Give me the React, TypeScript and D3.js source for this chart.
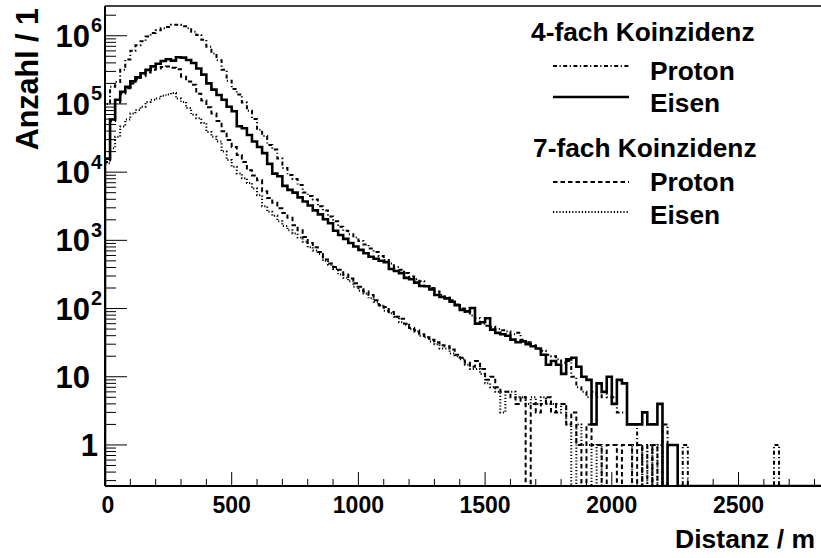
import React from 'react';
import * as d3 from 'd3';

// ---- data (counts per 20 m bin, starting at 0 m) ----
const binWidth = 20;

// 4-fach Koinzidenz, Proton (dash-dot)
const proton4: number[] = [
  100000, 178000, 209000, 316000, 447000, 603000, 724000, 832000, 977000, 1096000,
  1202000, 1288000, 1349000, 1445000, 1445000, 1380000, 1288000, 1148000, 1023000, 871000,
  692000, 550000, 437000, 316000, 219000, 166000, 138000, 105000, 79400, 60300,
  41700, 33900, 25100, 21400, 15800, 11500, 9100, 7940, 6460, 5010,
  4470, 3980, 3160, 2750, 2240, 1900, 1580, 1380, 1230, 1100,
  977, 871, 759, 676, 589, 513, 457, 407, 372, 331,
  295, 269, 251, 214, 200, 178, 158, 145, 132, 115,
  100, 89, 79, 72, 60, 56, 54, 50, 48, 46,
  42, 44, 35, 32, 29, 26, 24, 21, 20, 18,
  16, 17, 10, 7, 6, 5, 6, 5, 6, 5,
  5, 3, 3, 2, 2, 1, 0, 1, 0, 0,
  2, 0, 0, 0, 1, 0, 0, 0, 0, 0,
  0, 0, 0, 0, 0, 0, 0, 0, 0, 0,
  0, 0, 1, 0,
];

// 4-fach Koinzidenz, Eisen (solid)
const eisen4: number[] = [
  15800, 59000, 115000, 151000, 178000, 214000, 245000, 282000, 316000, 355000,
  389000, 427000, 452000, 432000, 484000, 478000, 442000, 398000, 331000, 269000,
  200000, 162000, 135000, 115000, 91000, 78000, 47000, 44000, 35000, 28200,
  23400, 19000, 13200, 9500, 8700, 6300, 5500, 5000, 4270, 3720,
  3240, 2750, 2400, 2040, 1780, 1380, 1200, 1050, 912, 813,
  724, 646, 575, 537, 501, 479, 380, 355, 331, 282,
  269, 240, 214, 212, 190, 158, 148, 141, 126, 112,
  95, 91, 102, 60, 63, 72, 49, 44, 42, 40,
  35, 32, 33, 30, 28, 26, 21, 15, 17, 15,
  11, 18, 19, 14, 10, 9, 2, 8, 6, 10,
  4, 9, 8, 2, 2, 2, 3, 2, 2, 4,
  0, 1, 1, 0,
];

// 7-fach Koinzidenz, Proton (dashed)
const proton7: number[] = [
  14100, 56200, 105000, 141000, 170000, 200000, 229000, 257000, 288000, 316000,
  331000, 347000, 355000, 339000, 324000, 251000, 214000, 191000, 141000, 112000,
  89100, 72400, 56200, 39800, 29500, 23400, 17800, 14100, 10700, 8900,
  7590, 5250, 4170, 3550, 2950, 2510, 2140, 1660, 1410, 1120,
  912, 794, 676, 525, 457, 407, 372, 316, 275, 234,
  209, 178, 158, 132, 112, 105, 89, 76, 71, 60,
  52, 48, 42, 38, 35, 32, 29, 28, 25, 21,
  19, 16, 14, 17, 13, 9, 10, 7, 6, 6,
  5, 4, 5, 0, 4, 3, 4, 5, 3, 4,
  4, 2, 3, 1, 0, 2, 1, 1, 0, 1,
  1, 0, 1, 1, 0, 1, 0, 0, 1, 0,
];

// 7-fach Koinzidenz, Eisen (dotted)
const eisen7: number[] = [
  13500, 22400, 33100, 46800, 58900, 72400, 81300, 91200, 107000, 115000,
  120000, 132000, 138000, 145000, 120000, 107000, 87100, 69200, 61700, 52500,
  38900, 33100, 28200, 20000, 15100, 12000, 9550, 8130, 6920, 5750,
  4570, 3160, 2630, 2290, 1910, 1620, 1410, 1260, 1100, 955,
  794, 708, 631, 501, 437, 380, 316, 282, 251, 209,
  182, 166, 141, 126, 110, 93, 85, 76, 63, 58,
  50, 46, 40, 38, 33, 30, 26, 26, 22, 20,
  18, 15, 13, 13, 11, 8, 7, 6, 3, 6,
  6, 5, 5, 4, 5, 4, 5, 4, 4, 3,
  4, 2, 0, 2, 1, 1, 0, 1, 0, 0,
  0, 0, 0, 0, 1, 1, 0, 1, 0, 1,
  0,
];

const xMajorTicks = [0, 500, 1000, 1500, 2000, 2500];
const xMinorStep = 100;
const yDecadeExponents = [0, 1, 2, 3, 4, 5, 6];

const legendHeader4 = '4-fach Koinzidenz';
const legendHeader7 = '7-fach Koinzidenz';
const labelProton = 'Proton';
const labelEisen = 'Eisen';
const xTitle = 'Distanz / m';
const yTitle = 'Anzahl / 1';

const FONT = "'Liberation Sans', Arial, Helvetica, sans-serif";

export default function App() {
  const W = 821;
  const H = 558;
  const xMax = 3000;
  const yMin = 0.25;
  const yMax = 2.73e6;
  const left = 105;
  const top = 6;
  const bottom = 486;
  const right = 105 + 760.2;

  const x = d3.scaleLinear().domain([0, xMax]).range([left, right]);
  const y = d3.scaleLog().domain([yMin, yMax]).range([bottom, top]);

  const line = d3
    .line<[number, number]>()
    .x((d) => x(d[0]))
    .y((d) => y(Math.max(d[1], yMin)))
    .curve(d3.curveStepAfter);

  const histPath = (arr: number[]) => {
    const p: [number, number][] = [[0, yMin]];
    arr.forEach((v, i) => p.push([i * binWidth, v]));
    p.push([arr.length * binWidth, arr[arr.length - 1]]);
    p.push([arr.length * binWidth, yMin]);
    p.push([xMax, yMin]);
    return line(p) || '';
  };

  const series = [
    { data: proton4, dash: '4 2.5 1.2 2.5', width: 2 },
    { data: eisen4, dash: undefined, width: 2.6 },
    { data: proton7, dash: '4.5 3', width: 2 },
    { data: eisen7, dash: '1.2 2', width: 2 },
  ];

  // y ticks
  const yMinor: number[] = [];
  for (let e = -1; e <= 6; e++) {
    for (let k = 2; k <= 9; k++) {
      const v = k * Math.pow(10, e);
      if (v >= yMin && v <= yMax) yMinor.push(v);
    }
  }
  const xMinor: number[] = d3.range(0, xMax + 1, xMinorStep).filter((v) => v % 500 !== 0);

  const yLabelFs = 31;
  const supFs = 20;
  const baseRight = 90;

  const legendLines = [
    { y: 66, dash: '4 2.5 1.2 2.5', width: 2 },
    { y: 97, dash: undefined, width: 2.6 },
    { y: 182, dash: '4.5 3', width: 2 },
    { y: 212, dash: '1.2 2', width: 2 },
  ];

  return (
    <svg
      width={W}
      height={H}
      style={{ position: 'absolute', left: 0, top: 0, background: '#fff' }}
      fontFamily={FONT}
    >
      <rect x={0} y={0} width={W} height={H} fill="#fff" />
      <defs>
        <clipPath id="plotClip">
          <rect x={left} y={top} width={right - left} height={bottom - top} />
        </clipPath>
      </defs>

      <g clipPath="url(#plotClip)" fill="none" stroke="#000" strokeLinejoin="miter">
        {series.map((s, i) => (
          <path key={i} d={histPath(s.data)} strokeWidth={s.width} strokeDasharray={s.dash} />
        ))}
      </g>

      {/* frame */}
      <line x1={left} x2={W} y1={top} y2={top} stroke="#000" strokeWidth={1.5} />
      <line x1={left} x2={left} y1={top} y2={bottom} stroke="#000" strokeWidth={2} />
      <line x1={left} x2={W} y1={bottom} y2={bottom} stroke="#000" strokeWidth={2} />

      {/* y ticks */}
      <g stroke="#000" strokeWidth={1}>
        {yDecadeExponents.map((e) => (
          <line key={'ym' + e} x1={left} x2={left + 22} y1={y(Math.pow(10, e))} y2={y(Math.pow(10, e))} />
        ))}
        {yMinor.map((v, i) => (
          <line key={'yn' + i} x1={left} x2={left + 11} y1={y(v)} y2={y(v)} />
        ))}
      </g>
      {/* x ticks */}
      <g stroke="#000" strokeWidth={1}>
        {xMajorTicks.map((v) => (
          <line key={'xm' + v} x1={x(v)} x2={x(v)} y1={bottom} y2={bottom - 14} />
        ))}
        {xMinor.map((v) => (
          <line key={'xn' + v} x1={x(v)} x2={x(v)} y1={bottom} y2={bottom - 7} />
        ))}
      </g>

      {/* x labels */}
      <g fontSize={23} fontWeight="bold" textAnchor="middle" fill="#000">
        {xMajorTicks.map((v) => (
          <text key={'xl' + v} x={x(v) + (v === 0 ? 3 : 0)} y={513}>
            {String(v)}
          </text>
        ))}
      </g>

      {/* y labels */}
      <g fontWeight="bold" fill="#000">
        {yDecadeExponents.map((e) => {
          const ty = y(Math.pow(10, e));
          const base = ty + 0.358 * yLabelFs;
          if (e === 0) {
            return (
              <text key={'yl' + e} x={98} y={base} fontSize={yLabelFs} textAnchor="end">
                1
              </text>
            );
          }
          if (e === 1) {
            return (
              <text key={'yl' + e} x={baseRight} y={base} fontSize={yLabelFs} textAnchor="end">
                10
              </text>
            );
          }
          return (
            <g key={'yl' + e}>
              <text x={baseRight} y={base} fontSize={yLabelFs} textAnchor="end">
                10
              </text>
              <text x={baseRight + 1} y={base - 0.47 * yLabelFs} fontSize={supFs} textAnchor="start">
                {String(e)}
              </text>
            </g>
          );
        })}
      </g>

      {/* axis titles */}
      <text x={815} y={548} fontSize={26.5} fontWeight="bold" textAnchor="end" fill="#000">
        {xTitle}
      </text>
      <text
        transform="translate(38,8) rotate(-90)"
        fontSize={30.5}
        fontWeight="bold"
        textAnchor="end"
        fill="#000"
      >
        {yTitle}
      </text>

      {/* legend */}
      <g fontWeight="bold" fontSize={26.3} fill="#000">
        <text x={531} y={41}>{legendHeader4}</text>
        <text x={650} y={80}>{labelProton}</text>
        <text x={650} y={112}>{labelEisen}</text>
        <text x={533} y={157}>{legendHeader7}</text>
        <text x={650} y={191}>{labelProton}</text>
        <text x={650} y={224}>{labelEisen}</text>
      </g>
      <g stroke="#000" fill="none">
        {legendLines.map((l, i) => (
          <line key={'ll' + i} x1={553} x2={629} y1={l.y} y2={l.y} strokeWidth={l.width} strokeDasharray={l.dash} />
        ))}
      </g>
    </svg>
  );
}
